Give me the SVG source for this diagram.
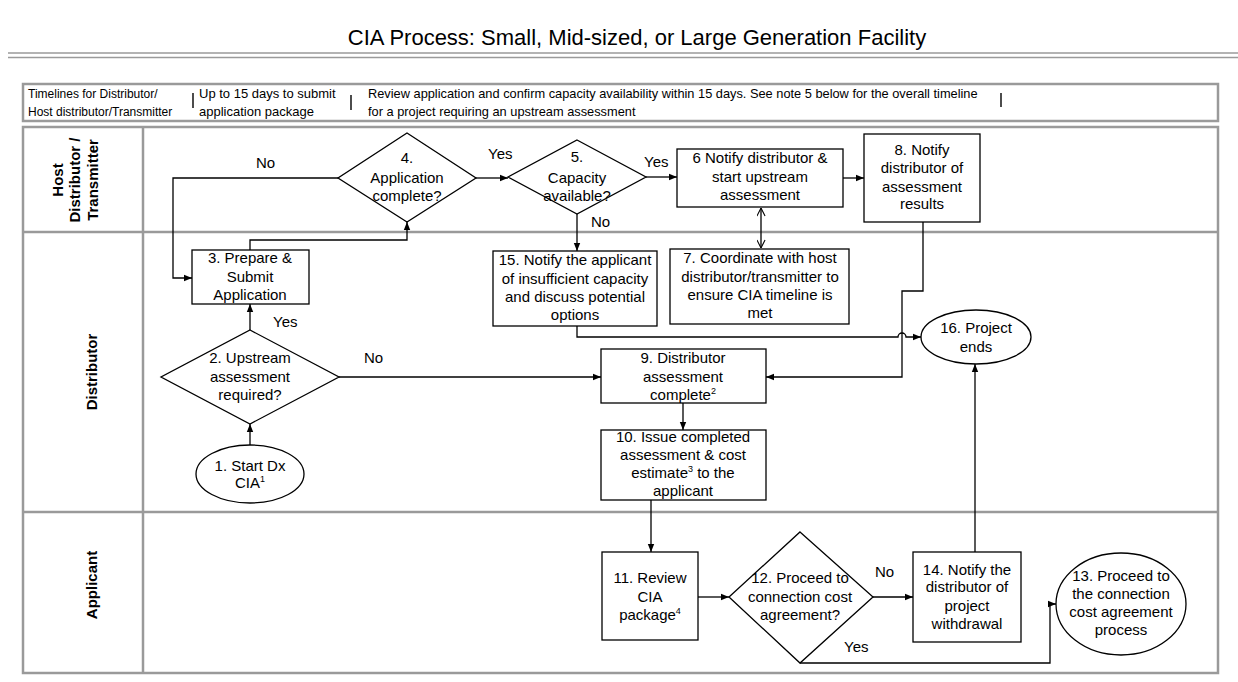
<svg xmlns="http://www.w3.org/2000/svg" width="1238" height="682" viewBox="0 0 1238 682">
<defs>
<marker id="arr" viewBox="0 0 10 10" refX="10" refY="5" markerWidth="8" markerHeight="8" markerUnits="userSpaceOnUse" orient="auto"><path d="M0,1 L10,5 L0,9 z" fill="#000"/></marker>
<marker id="opn" viewBox="0 0 10 10" refX="10" refY="5" markerWidth="9" markerHeight="9" markerUnits="userSpaceOnUse" orient="auto-start-reverse"><path d="M1,0.5 L10,5 L1,9.5" fill="none" stroke="#000" stroke-width="1.2"/></marker>
</defs>
<style>
text{font-family:"Liberation Sans",Arial,sans-serif;fill:#000}
.t{font-size:15px;text-anchor:middle}
.l{font-size:15px}
.lane{font-size:15px;font-weight:bold;text-anchor:middle}
.tl{font-size:12px}
.tl2{font-size:13px}
.tl3{font-size:12.8px}
.box{fill:#fff;stroke:#000;stroke-width:1.3}
.grid{fill:none;stroke:#9a9a9a;stroke-width:2.5}
.c{fill:none;stroke:#000;stroke-width:1.3}
.ca{fill:none;stroke:#000;stroke-width:1.3;marker-end:url(#arr)}
.bar{stroke:#000;stroke-width:1.4}
.sup{font-size:9px}
</style>
<rect x="0" y="0" width="1238" height="682" fill="#fff"/>

<g id="title">
<text x="637" y="45" font-size="22" text-anchor="middle">CIA Process: Small, Mid-sized, or Large Generation Facility</text>
<line x1="8" y1="53" x2="1238" y2="53" stroke="#9a9a9a" stroke-width="1.5"/>
<line x1="8" y1="57.5" x2="1238" y2="57.5" stroke="#9a9a9a" stroke-width="1.5"/>
</g>

<g id="timelines">
<rect class="grid" x="23" y="84" width="1195" height="37"/>
<text class="tl" x="28" y="98">Timelines for Distributor/</text>
<text class="tl" x="28" y="116">Host distributor/Transmitter</text>
<line class="bar" x1="193" y1="93" x2="193" y2="108"/>
<text class="tl2" x="199" y="98">Up to 15 days to submit</text>
<text class="tl2" x="199" y="116">application package</text>
<line class="bar" x1="351" y1="95" x2="351" y2="110" stroke-width="2"/>
<text class="tl3" x="368" y="98">Review application and confirm capacity availability within 15 days. See note 5 below for the overall timeline</text>
<text class="tl3" x="368" y="116">for a project requiring an upstream assessment</text>
<line class="bar" x1="1001" y1="93" x2="1001" y2="107"/>
</g>

<g id="lanes">
<rect class="grid" x="23" y="127" width="1195" height="546"/>
<line class="grid" x1="23" y1="232" x2="1218" y2="232"/>
<line class="grid" x1="23" y1="512" x2="1218" y2="512"/>
<line class="grid" x1="143" y1="127" x2="143" y2="673"/>
<text class="lane" transform="translate(62.5,180) rotate(-90)"><tspan x="0" y="0">Host</tspan><tspan x="0" y="17.5">Distributor /</tspan><tspan x="0" y="35">Transmitter</tspan></text>
<text class="lane" transform="translate(96.5,372) rotate(-90)">Distributor</text>
<text class="lane" transform="translate(96.5,585) rotate(-90)">Applicant</text>
</g>

<g id="connectors">
<path class="ca" d="M250,445 V424"/>
<path class="ca" d="M250,330 V304"/>
<path class="ca" d="M250,250 V240 H407 V222"/>
<path class="ca" d="M338,178 H173 V278 H192"/>
<path class="ca" d="M476,178 H508"/>
<path class="ca" d="M646,177 H677"/>
<path class="ca" d="M577,214 V251"/>
<path d="M761,208 V248" fill="none" stroke="#000" stroke-width="1.3" marker-start="url(#opn)" marker-end="url(#opn)"/>
<path class="ca" d="M843,178 H864"/>
<path class="ca" d="M923,222 V291 H902 V377 H766"/>
<path class="ca" d="M577,326 V337 H898 A4,4 0 0 1 906,337 H921"/>
<path class="ca" d="M339,377 H601"/>
<path class="ca" d="M683,403 V430"/>
<path class="ca" d="M651,500 V552"/>
<path class="ca" d="M698,597 H729"/>
<path class="ca" d="M873,597 H913"/>
<path class="ca" d="M800,663 H1050 V604 H1056"/>
<path class="ca" d="M975,552 V364"/>
<text class="l" x="256" y="168">No</text>
<text class="l" x="488" y="159">Yes</text>
<text class="l" x="644" y="167">Yes</text>
<text class="l" x="591" y="227">No</text>
<text class="l" x="273" y="327">Yes</text>
<text class="l" x="364" y="363">No</text>
<text class="l" x="875" y="577">No</text>
<text class="l" x="844" y="652">Yes</text>
</g>

<g id="n1">
<ellipse class="box" cx="250" cy="474" rx="54" ry="29"/>
<text class="t" x="250" y="471">1. Start Dx</text>
<text class="t" x="250" y="488">CIA<tspan class="sup" dy="-6">1</tspan></text>
</g>
<g id="n2">
<polygon class="box" points="250,330 339,377 250,424 161,377"/>
<text class="t" x="250" y="363">2. Upstream</text>
<text class="t" x="250" y="382">assessment</text>
<text class="t" x="250" y="400">required?</text>
</g>
<g id="n3">
<rect class="box" x="192" y="250" width="117" height="54"/>
<text class="t" x="250" y="263">3. Prepare &amp;</text>
<text class="t" x="250" y="282">Submit</text>
<text class="t" x="250" y="300">Application</text>
</g>
<g id="n4">
<polygon class="box" points="407,133 476,178 407,222 338,178"/>
<text class="t" x="407" y="163">4.</text>
<text class="t" x="407" y="183">Application</text>
<text class="t" x="407" y="201">complete?</text>
</g>
<g id="n5">
<polygon class="box" points="577,140 646,177 577,214 508,177"/>
<text class="t" x="577" y="162">5.</text>
<text class="t" x="577" y="183">Capacity</text>
<text class="t" x="577" y="201">available?</text>
</g>
<g id="n6">
<rect class="box" x="677" y="149" width="166" height="58"/>
<text class="t" x="760" y="163">6 Notify distributor &amp;</text>
<text class="t" x="760" y="182">start upstream</text>
<text class="t" x="760" y="200">assessment</text>
</g>
<g id="n7">
<rect class="box" x="670" y="249" width="179" height="75"/>
<text class="t" x="760" y="263">7. Coordinate with host</text>
<text class="t" x="760" y="282">distributor/transmitter to</text>
<text class="t" x="760" y="300">ensure CIA timeline is</text>
<text class="t" x="760" y="318">met</text>
</g>
<g id="n8">
<rect class="box" x="864" y="134" width="116" height="88"/>
<text class="t" x="922" y="155">8. Notify</text>
<text class="t" x="922" y="173">distributor of</text>
<text class="t" x="922" y="192">assessment</text>
<text class="t" x="922" y="209">results</text>
</g>
<g id="n9">
<rect class="box" x="601" y="349" width="165" height="54"/>
<text class="t" x="683" y="363">9. Distributor</text>
<text class="t" x="683" y="382">assessment</text>
<text class="t" x="683" y="400">complete<tspan class="sup" dy="-6">2</tspan></text>
</g>
<g id="n10">
<rect class="box" x="601" y="430" width="165" height="70"/>
<text class="t" x="683" y="442">10. Issue completed</text>
<text class="t" x="683" y="460">assessment &amp; cost</text>
<text class="t" x="683" y="478">estimate<tspan class="sup" dy="-6">3</tspan><tspan dy="6"> to the</tspan></text>
<text class="t" x="683" y="496">applicant</text>
</g>
<g id="n11">
<rect class="box" x="602" y="552" width="96" height="88"/>
<text class="t" x="650" y="583">11. Review</text>
<text class="t" x="650" y="602">CIA</text>
<text class="t" x="650" y="620">package<tspan class="sup" dy="-6">4</tspan></text>
</g>
<g id="n12">
<polygon class="box" points="800,532 873,597 800,663 729,597"/>
<text class="t" x="800" y="583">12. Proceed to</text>
<text class="t" x="800" y="602">connection cost</text>
<text class="t" x="800" y="620">agreement?</text>
</g>
<g id="n13">
<ellipse class="box" cx="1121" cy="604" rx="65" ry="51"/>
<text class="t" x="1121" y="581">13. Proceed to</text>
<text class="t" x="1121" y="599">the connection</text>
<text class="t" x="1121" y="617">cost agreement</text>
<text class="t" x="1121" y="635">process</text>
</g>
<g id="n14">
<rect class="box" x="913" y="552" width="108" height="90"/>
<text class="t" x="967" y="575">14. Notify the</text>
<text class="t" x="967" y="592">distributor of</text>
<text class="t" x="967" y="611">project</text>
<text class="t" x="967" y="629">withdrawal</text>
</g>
<g id="n15">
<rect class="box" x="493" y="251" width="164" height="75"/>
<text class="t" x="575" y="265">15. Notify the applicant</text>
<text class="t" x="575" y="284">of insufficient capacity</text>
<text class="t" x="575" y="302">and discuss potential</text>
<text class="t" x="575" y="320">options</text>
</g>
<g id="n16">
<ellipse class="box" cx="976" cy="337" rx="55" ry="27"/>
<text class="t" x="976" y="333">16. Project</text>
<text class="t" x="976" y="352">ends</text>
</g>
</svg>
